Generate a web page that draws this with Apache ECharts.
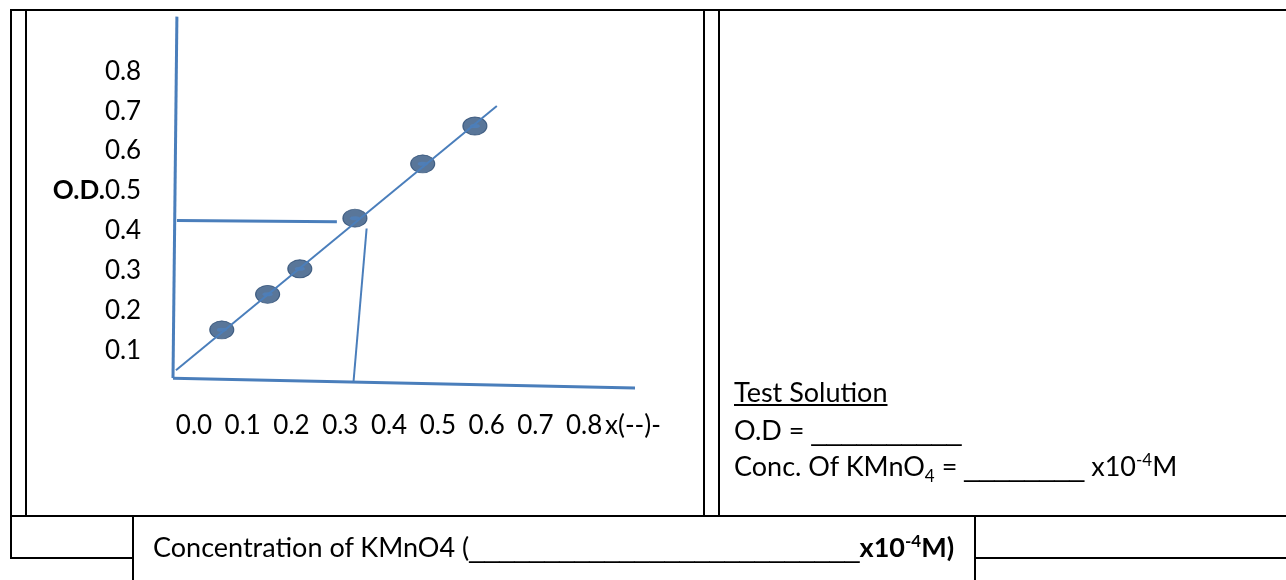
<!DOCTYPE html>
<html>
<head>
<meta charset="utf-8">
<script src="https://cdn.jsdelivr.net/npm/echarts@6/dist/echarts.min.js"></script>
<style>
  body {
    margin: 0;
    width: 1286px;
    height: 580px;
    position: relative;
    overflow: hidden;
    background: #fff;
    font-family: Lato, "Open Sans", sans-serif;
    color: #000;
  }
  #chart {
    position: absolute;
    left: 0;
    top: 0;
    width: 1286px;
    height: 580px;
  }
  .ln {
    position: absolute;
    background: #000;
  }
  .t {
    position: absolute;
    font-size: 27px;
    line-height: 27px;
    white-space: pre;
  }
  .t sub, .t sup {
    font-size: 17px;
    line-height: 0;
  }
  .u {
    font-family: "Liberation Sans", Arial, sans-serif;
  }
</style>
</head>
<body>
<div id="chart"></div>

<!-- table rules -->
<div class="ln" style="left:10px;top:9px;width:1276px;height:2px"></div>
<div class="ln" style="left:10px;top:9px;width:2px;height:550px"></div>
<div class="ln" style="left:25px;top:9px;width:2px;height:507px"></div>
<div class="ln" style="left:703px;top:9px;width:2px;height:507px"></div>
<div class="ln" style="left:718px;top:9px;width:2px;height:507px"></div>
<div class="ln" style="left:10px;top:515px;width:1276px;height:2px"></div>
<div class="ln" style="left:10px;top:557px;width:124px;height:2px"></div>
<div class="ln" style="left:132px;top:515px;width:2px;height:65px"></div>
<div class="ln" style="left:974px;top:515px;width:2px;height:65px"></div>
<div class="ln" style="left:974px;top:557px;width:312px;height:2px"></div>

<!-- right cell text -->
<div class="t" style="left:734px;top:378px;text-decoration:underline">Test Solution</div>
<div class="t" style="left:734px;top:416px">O.D = <span class="u">__________</span></div>
<div class="t" style="left:734px;top:452px">Conc. Of KMnO<sub>4</sub> = <span class="u">________</span> x10<sup>-4</sup>M</div>

<!-- bottom row caption -->
<div class="t" style="left:153px;top:533px">Concentration of KMnO4 (<span class="u">__________________________</span><b>x10<sup>-4</sup>M)</b></div>

<script>
  // axis tick labels
  const odTicks = [0.1, 0.2, 0.3, 0.4, 0.5, 0.6, 0.7, 0.8];
  const concTicks = [0, 0.1, 0.2, 0.3, 0.4, 0.5, 0.6, 0.7, 0.8, 0.9];
  const concUnitLabel = "x(--)-";
  const odAxisName = "O.D.";

  // standard solutions (conc, O.D.)
  const standardConc = [0.057, 0.151, 0.217, 0.330, 0.469, 0.576];
  const standardOD = [0.152, 0.241, 0.305, 0.432, 0.568, 0.663];

  // hand drawn strokes, in axis units
  const fitLine = [[-0.037, 0.051], [0.621, 0.713]];
  const odReadLine = [[-0.035, 0.426], [0.293, 0.423]];
  const concReadLine = [[0.354, 0.406], [0.327, 0.020]];
  const yAxisStroke = [[-0.035, 0.937], [-0.043, 0.031]];
  const xAxisStroke = [[-0.043, 0.031], [0.909, 0.006]];

  const BLUE = "#4a7ebb";
  const FONT = "Lato, 'Open Sans', sans-serif";

  const stroke = (data, width) => ({
    type: "line",
    data: data,
    showSymbol: false,
    clip: false,
    silent: true,
    lineStyle: { color: BLUE, width: width },
  });

  const chart = echarts.init(document.getElementById("chart"));

  chart.setOption({
    animation: false,
    grid: {
      left: 145.2,
      right: 653.1,
      top: 31.4,
      bottom: 189.5,
      containLabel: false,
      outerBoundsMode: "none",
    },
    xAxis: {
      type: "value",
      min: -0.1,
      max: 0.9,
      axisLine: { show: false },
      axisTick: { show: false },
      splitLine: { show: false },
      axisLabel: {
        customValues: concTicks,
        margin: 22,
        color: "#000",
        fontFamily: FONT,
        fontSize: 26,
        formatter: (v) => (v > 0.85 ? concUnitLabel : v.toFixed(1)),
      },
    },
    yAxis: {
      type: "value",
      min: 0,
      max: 0.9,
      axisLine: { show: false },
      axisTick: { show: false },
      splitLine: { show: false },
      axisLabel: {
        customValues: odTicks,
        margin: 4,
        color: "#000",
        fontFamily: FONT,
        fontSize: 26,
        formatter: (v) =>
          Math.abs(v - 0.5) < 1e-6 ? `{b|${odAxisName}}${v.toFixed(1)}` : v.toFixed(1),
        rich: {
          b: { fontWeight: "bold", fontFamily: FONT, fontSize: 26, color: "#000" },
        },
      },
    },
    series: [
      stroke(yAxisStroke, 3),
      stroke(xAxisStroke, 3),
      stroke(odReadLine, 3),
      stroke(concReadLine, 2),
      stroke(fitLine, 2),
      {
        type: "scatter",
        data: standardConc.map((c, i) => [c, standardOD[i]]),
        symbol: "circle",
        symbolSize: [24, 18],
        silent: true,
        itemStyle: { color: "#30547f", borderColor: "#284870", borderWidth: 1 },
      },
      {
        type: "scatter",
        data: standardConc.map((c, i) => [c, standardOD[i]]),
        symbol: "circle",
        symbolSize: [10, 4],
        silent: true,
        itemStyle: { color: "#4f81bd" },
      },
    ],
  });
</script>
</body>
</html>
